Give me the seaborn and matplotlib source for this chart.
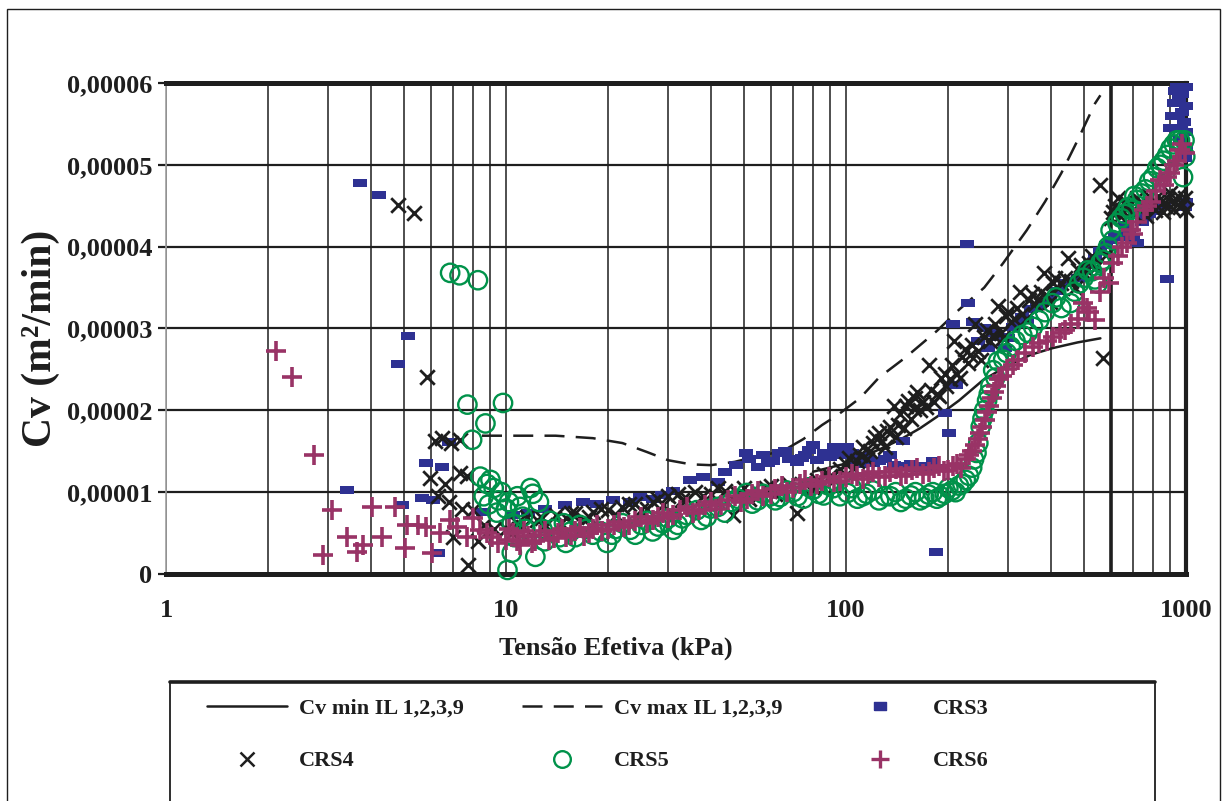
import numpy as np
import pandas as pd
import matplotlib
matplotlib.use("Agg")
import matplotlib.pyplot as plt
from matplotlib.lines import Line2D
from matplotlib.patches import Rectangle
from matplotlib.ticker import FixedLocator, FixedFormatter, LogLocator, NullFormatter
import seaborn as sns

# Cv values below are written in units of 1e-5 m²/min
CV_UNIT = 1e-5

# ---- CRS3 ----
crs3_x = [3.41, 3.72, 4.23, 4.81, 4.94, 5.15, 5.66, 5.82, 6.10, 6.30, 6.50, 6.80, 8.56,
          10.5, 11.6, 13.0, 14.9, 16.8, 18.5, 20.6, 23.2, 24.8, 27.0, 28.7, 31.0, 34.8,
          37.9, 42.0, 47.6, 50.9, 55.0, 59.0, 63.6, 68.0, 71.6, 76.0, 80.2, 82.2, 89.7,
          95.0, 101, 106, 112, 120, 130, 138, 147, 160, 175, 184, 195, 201, 206, 211,
          227, 228, 236, 262, 284, 293, 310, 330, 350, 376, 398, 420, 460, 500, 540,
          580, 620, 660, 700, 718, 760, 820, 879, 900, 920, 940, 950, 960, 970, 985,
          990, 995, 1000, 1000, 1000,
          44, 52, 57, 61, 66, 74, 78, 86, 92, 98, 104, 110, 116, 125, 135, 142, 155, 168,
          180, 190, 245, 255, 270, 300, 320, 340, 365, 440, 480, 520, 560, 600, 640, 680,
          740, 780, 860, 910, 930, 955, 965, 975, 1000, 1000]
crs3_y = [1.03, 4.78, 4.63, 2.57, 0.84, 2.91, 0.93, 1.36, 0.90, 0.26, 1.31, 1.61, 0.76,
          0.72, 0.75, 0.80, 0.84, 0.88, 0.85, 0.90, 0.88, 0.94, 0.92, 0.97, 1.02, 1.15,
          1.19, 1.12, 1.33, 1.48, 1.31, 1.36, 1.48, 1.40, 1.37, 1.46, 1.58, 1.39, 1.43,
          1.50, 1.55, 1.38, 1.44, 1.36, 1.41, 1.33, 1.63, 1.30, 1.28, 0.27, 1.97, 1.72,
          3.06, 2.31, 4.03, 3.31, 3.08, 2.76, 2.90, 2.76, 3.02, 3.14, 3.24, 3.31, 3.39,
          3.46, 3.58, 3.72, 3.86, 4.02, 4.14, 4.26, 4.10, 4.04, 4.36, 4.44, 3.60, 5.45,
          5.76, 5.95, 5.60, 5.30, 5.86, 5.52, 5.08, 4.49, 5.95, 5.72, 4.55,
          1.25, 1.40, 1.45, 1.38, 1.50, 1.42, 1.52, 1.48, 1.55, 1.45, 1.48, 1.35, 1.40,
          1.38, 1.45, 1.32, 1.35, 1.32, 1.38, 1.30, 2.85, 3.00, 2.95, 2.88, 3.05, 3.10,
          3.28, 3.55, 3.62, 3.78, 3.95, 4.08, 4.12, 4.18, 4.30, 4.40, 4.50, 5.60, 5.90,
          5.80, 5.45, 5.65, 5.40, 5.20]

# ---- CRS4 ----
crs4_x = [4.81, 5.36, 5.85, 6.2, 6.5, 6.9, 7.3, 5.99, 6.6, 7.3, 7.7, 6.8, 6.3, 7.4, 8.0,
          7.0, 7.75, 8.3, 8.6, 9.2,
          10.0, 10.8, 11.5, 12.3, 13.0, 14.0, 15.0, 16.0, 17.5, 19.0, 20.0, 22.0, 24.0,
          26.0, 28.0, 30.0, 33.0, 36.0, 40.0, 44.0, 46.5, 50.0, 55.0, 60.0, 65.0, 72.0,
          76.0, 82.0, 90.0, 96.0, 100,
          105, 110, 115, 120, 125, 130, 135, 140, 144, 150, 155, 160, 165, 172, 178, 185,
          190, 197, 205, 212, 220, 228, 235, 245, 255, 265, 275, 285, 295, 305, 318, 330,
          345, 360, 375, 390, 405, 420, 440, 460, 480, 500, 520, 545, 560, 570, 580,
          600, 620, 640, 660, 690, 720, 750, 780, 810, 840, 870, 900, 930, 960, 990,
          102, 108, 112, 118, 122, 128, 132, 138, 142, 148, 152, 158, 162, 168, 175, 182,
          188, 195, 202, 208, 216, 224, 232, 240, 250, 260, 270, 280, 290, 300, 312, 324,
          338, 352, 368, 382, 398, 412, 430, 450, 470, 490, 510, 530,
          610, 630, 650, 675, 705, 735, 765, 795, 825, 855, 885, 915, 945, 975, 1000,
          10.4, 11.2, 12.8, 14.5, 15.5, 17.0, 18.0, 21.0, 23.0, 25.0, 27.0, 29.0, 32.0,
          34.0, 38.0, 42.0, 48.0, 52.0, 58.0, 62.0, 68.0, 80.0, 86.0, 93.0]
crs4_y = [4.51, 4.41, 2.41, 1.62, 1.66, 1.60, 1.64, 1.17, 1.10, 1.23, 1.20, 0.88, 0.95,
          0.80, 0.78, 0.45, 0.11, 0.40, 0.60, 0.55,
          0.55, 0.62, 0.70, 0.66, 0.60, 0.72, 0.68, 0.75, 0.70, 0.80, 0.78, 0.82, 0.85,
          0.80, 0.92, 0.95, 0.90, 1.00, 0.98, 1.02, 0.72, 1.05, 0.95, 1.08, 1.02, 0.74,
          1.10, 1.15, 1.20, 1.28, 1.35,
          1.30, 1.45, 1.40, 1.60, 1.72, 1.55, 1.80, 1.67, 1.96, 2.05, 1.90, 2.15, 2.00,
          2.04, 2.25, 2.20, 2.40, 2.30, 2.55, 2.45, 2.65, 2.58, 2.80, 2.72, 2.90, 2.85,
          3.05, 2.95, 3.15, 3.08, 3.25, 3.18, 3.35, 3.30, 3.45, 3.40, 3.55, 3.50, 3.62,
          3.58, 3.72, 3.68, 3.80, 3.75, 4.75, 2.64, 3.90,
          4.35, 4.50, 4.38, 4.55, 4.42, 4.60, 4.48, 4.62, 4.45, 4.58, 4.50, 4.65, 4.55,
          4.48, 4.60,
          1.42, 1.38, 1.55, 1.50, 1.68, 1.62, 1.75, 2.05, 1.82, 1.78, 2.12, 2.02, 2.22,
          2.10, 2.55, 2.10, 2.18, 2.45, 2.38, 2.85, 2.40, 2.75, 2.68, 3.05, 2.62, 2.98,
          2.92, 3.28, 2.88, 3.20, 3.12, 3.45, 3.12, 3.42, 3.36, 3.68, 3.32, 3.62, 3.55,
          3.86, 3.50, 3.78, 3.72, 3.88,
          4.42, 4.60, 4.45, 4.52, 4.40, 4.55, 4.38, 4.50, 4.62, 4.42, 4.58, 4.46, 4.62,
          4.52, 4.45,
          0.50, 0.58, 0.68, 0.62, 0.74, 0.66, 0.76, 0.72, 0.86, 0.78, 0.88, 0.84, 0.98,
          0.92, 0.95, 1.05, 0.98, 0.92, 1.05, 0.98, 1.10, 1.05, 1.22, 1.16]

# ---- CRS5 ----
crs5_x = [6.85, 7.3, 8.27, 7.7, 9.8, 8.7, 7.95, 8.4, 8.8, 9.2, 8.6, 9.5, 10.0, 10.4,
          10.1, 10.4, 10.8, 11.2, 11.8, 12.0, 12.2, 12.8, 13.5, 14.4, 15.5, 16.5, 18.0,
          19.8, 21.0, 23.2, 25.0, 27.0, 29.0, 31.0, 33.0, 36.4, 39.0, 42.0, 46.0, 51.0,
          55.0, 60.0, 64.0, 70.0, 75.0, 80.0, 86.0, 92.0, 101, 108, 115, 125, 135, 145,
          155, 165, 175, 185, 195, 205, 215, 225, 235, 242, 249, 255, 260, 266, 271, 280,
          297, 315, 343, 370, 405, 430, 457, 485, 514, 540, 560, 570, 590, 610, 628, 660,
          690, 718, 760, 800, 823, 860, 900, 940, 960, 980, 995,
          8.9, 9.0, 9.4, 9.7, 10.2, 10.6, 11.0, 11.4, 12.5, 13.0, 13.8, 14.8, 15.0, 16.0,
          17.2, 19.0, 20.5, 22.0, 24.0, 26.0, 28.0, 30.0, 32.0, 34.0, 37.5, 40.0, 44.0,
          48.0, 53.0, 57.0, 62.0, 67.0, 72.0, 78.0, 83.0, 89.0, 96.0, 104, 112, 120, 130,
          140, 150, 160, 170, 180, 190, 200, 210, 220, 230, 238, 245, 252, 263, 275, 290,
          305, 330, 355, 385, 415, 470, 500, 530, 550, 580, 600, 645, 675, 705, 740, 780,
          840, 880, 920, 990]
crs5_y = [3.68, 3.65, 3.59, 2.07, 2.09, 1.84, 1.64, 1.19, 1.10, 1.05, 0.95, 0.90, 0.80,
          0.62, 0.05, 0.26, 0.95, 0.70, 1.05, 0.98, 0.21, 0.55, 0.65, 0.45, 0.52, 0.60,
          0.48, 0.38, 0.55, 0.54, 0.60, 0.52, 0.62, 0.54, 0.68, 0.78, 0.70, 0.82, 0.88,
          0.99, 0.90, 0.95, 0.94, 1.00, 0.92, 1.03, 0.96, 1.05, 0.99, 0.92, 0.98, 0.90,
          0.95, 0.88, 0.96, 0.90, 0.97, 0.92, 0.98, 1.02, 1.08, 1.15, 1.30, 1.48, 1.80,
          2.00, 2.12, 2.30, 2.49, 2.60, 2.70, 2.85, 2.95, 3.10, 3.31, 3.25, 3.31, 3.55,
          3.71, 3.60, 3.80, 3.84, 4.00, 4.08, 4.29, 4.40, 4.45, 4.57, 4.70, 4.85, 4.96,
          5.05, 5.20, 5.30, 5.30, 4.85, 5.10,
          0.85, 1.15, 0.75, 1.00, 0.88, 0.45, 0.82, 0.55, 0.88, 0.40, 0.55, 0.62, 0.38,
          0.45, 0.55, 0.52, 0.48, 0.62, 0.48, 0.65, 0.58, 0.68, 0.60, 0.72, 0.66, 0.80,
          0.75, 0.92, 0.86, 0.98, 0.90, 1.02, 0.95, 1.06, 0.98, 1.08, 0.95, 1.05, 0.95,
          1.02, 0.95, 1.00, 0.92, 1.00, 0.93, 1.00, 0.95, 1.05, 1.00, 1.10, 1.20, 1.40,
          1.60, 1.90, 2.20, 2.40, 2.62, 2.78, 2.92, 3.02, 3.20, 3.38, 3.45, 3.62, 3.70,
          3.55, 3.92, 4.20, 4.35, 4.48, 4.62, 4.65, 4.80, 5.00, 5.12, 5.25, 5.30]

# ---- CRS6 ----
crs6_x = [2.11, 2.35, 2.72, 2.9, 3.07, 3.41, 3.65, 3.8, 4.03, 4.32, 4.72, 5.05, 5.12,
          5.5, 5.8, 6.05, 6.4, 6.85, 7.2, 7.67, 8.0, 8.4, 8.8, 9.1, 9.5,
          10.0, 10.5, 11.0, 11.6, 12.2, 13.0, 13.8, 14.6, 15.5, 16.5, 17.5, 18.5, 20.0,
          21.5, 23.0, 25.0, 27.0, 29.0, 31.0, 34.0, 37.0, 40.0, 43.0, 47.0, 51.0, 55.0,
          60.0, 65.0, 70.0, 76.0, 82.0, 89.0, 96.0, 104, 112, 120, 130, 140, 150, 162,
          175, 188, 200, 212, 225, 235, 245, 252, 260, 268, 276, 288, 297, 320, 355, 390,
          425, 460, 497, 520, 540, 560, 575, 595, 630, 670, 700, 750, 790, 840, 880, 920,
          960, 990,
          10.2, 10.8, 11.3, 11.9, 12.6, 13.4, 14.2, 15.0, 16.0, 17.0, 18.0, 19.2, 20.8,
          22.2, 24.0, 26.0, 28.0, 30.0, 32.5, 35.5, 38.5, 41.5, 45.0, 49.0, 53.0, 57.0,
          62.0, 67.0, 73.0, 79.0, 85.0, 92.0, 100, 108, 116, 125, 135, 145, 156, 168, 181,
          194, 206, 218, 230, 240, 248, 256, 264, 272, 282, 310, 335, 370, 405, 440, 480,
          510, 610, 650, 690, 720, 770, 815, 860, 900, 940, 975]
crs6_y = [2.73, 2.41, 1.45, 0.23, 0.78, 0.45, 0.27, 0.35, 0.82, 0.45, 0.82, 0.32, 0.60,
          0.60, 0.58, 0.26, 0.50, 0.66, 0.58, 0.45, 0.68, 0.54, 0.50, 0.45, 0.38,
          0.42, 0.50, 0.36, 0.47, 0.40, 0.52, 0.44, 0.55, 0.48, 0.56, 0.50, 0.60, 0.55,
          0.64, 0.60, 0.70, 0.66, 0.75, 0.72, 0.82, 0.78, 0.88, 0.84, 0.95, 0.92, 1.02,
          0.98, 1.08, 1.05, 1.15, 1.10, 1.18, 1.14, 1.22, 1.16, 1.25, 1.20, 1.28, 1.22,
          1.30, 1.25, 1.32, 1.27, 1.35, 1.40, 1.50, 1.65, 1.80, 1.98, 2.15, 2.30, 2.42,
          2.50, 2.62, 2.77, 2.85, 2.94, 3.05, 3.31, 3.20, 3.10, 3.45, 3.62, 3.55, 3.88,
          4.04, 4.15, 4.45, 4.55, 4.81, 4.85, 5.00, 5.18, 5.15,
          0.55, 0.40, 0.52, 0.38, 0.48, 0.42, 0.50, 0.45, 0.52, 0.47, 0.55, 0.52, 0.60,
          0.57, 0.65, 0.62, 0.70, 0.68, 0.78, 0.75, 0.84, 0.80, 0.90, 0.88, 0.98, 0.95,
          1.04, 1.00, 1.10, 1.08, 1.14, 1.12, 1.18, 1.20, 1.22, 1.18, 1.25, 1.20, 1.27,
          1.22, 1.30, 1.26, 1.32, 1.30, 1.45, 1.58, 1.72, 1.88, 2.05, 2.22, 2.38, 2.55,
          2.70, 2.82, 2.90, 2.98, 3.12, 3.25, 3.80, 4.00, 4.20, 4.30, 4.50, 4.68, 4.75,
          4.90, 5.05, 5.25]

# ---- Envelope curves from incremental loading tests IL 1,2,3,9 ----
cvmin_x = [80, 100, 125, 144, 165, 185, 215, 253, 300, 350, 405, 480, 560]
cvmin_y = [1.25, 1.35, 1.52, 1.64, 1.78, 1.92, 2.12, 2.37, 2.55, 2.68, 2.76, 2.83, 2.88]
cvmax_x = [8.5, 10, 14, 18, 22, 26, 30, 35, 40, 47, 55, 65, 75, 85, 95, 110, 125, 150,
           185, 215, 255, 290, 340, 385, 430, 480, 540, 560]
cvmax_y = [1.69, 1.69, 1.69, 1.66, 1.60, 1.49, 1.39, 1.34, 1.33, 1.37, 1.44, 1.50, 1.65,
           1.82, 1.95, 2.15, 2.40, 2.65, 2.97, 3.23, 3.50, 3.80, 4.20, 4.55, 4.90, 5.30,
           5.75, 5.85]

series_labels = ["Cv min IL 1,2,3,9", "Cv max IL 1,2,3,9", "CRS3", "CRS4", "CRS5", "CRS6"]

x_ticks = [1, 10, 100, 1000]
x_tick_labels = ["1", "10", "100", "1000"]
y_ticks = [0, 1e-5, 2e-5, 3e-5, 4e-5, 5e-5, 6e-5]
y_tick_labels = ["0", "0,00001", "0,00002", "0,00003", "0,00004", "0,00005", "0,00006"]

x_label = "Tensão Efetiva (kPa)"
y_label = "Cv (m²/min)"

# ---- styling ----
sns.set_theme(style="white")
plt.rcParams["font.family"] = ["Liberation Serif", "DejaVu Serif"]
plt.rcParams["font.weight"] = "bold"
plt.rcParams["axes.labelweight"] = "bold"

INK = "#1e1e1e"
C_BLUE = "#2e3192"
C_GREEN = "#00924a"
C_MAG = "#993366"
RECT = [(-1, -0.62), (1, -0.62), (1, 0.62), (-1, 0.62), (-1, -0.62)]
DASH = (8, 4.5)


def frame(xs, ys):
    return pd.DataFrame({"x": xs, "y": np.asarray(ys) * CV_UNIT})


W, H = 1224, 801
fig = plt.figure(figsize=(W / 100, H / 100), dpi=100)
ax = fig.add_axes([166 / W, (H - 574) / H, 1020 / W, 491 / H])
ax.set_xscale("log")

# envelope curves
sns.lineplot(data=frame(cvmin_x, cvmin_y), x="x", y="y", ax=ax, sort=False,
             estimator=None, color=INK, lw=1.8, zorder=3)
sns.lineplot(data=frame(cvmax_x, cvmax_y), x="x", y="y", ax=ax, sort=False,
             estimator=None, color=INK, lw=1.8, dashes=DASH, zorder=3)

# CRS tests
sns.scatterplot(data=frame(crs3_x, crs3_y), x="x", y="y", ax=ax, marker=RECT, s=95,
                color=C_BLUE, edgecolor=C_BLUE, linewidth=0, zorder=4, clip_on=False)
sns.scatterplot(data=frame(crs4_x, crs4_y), x="x", y="y", ax=ax, marker="x", s=110,
                color=INK, linewidth=2.0, zorder=5, clip_on=False)
sns.scatterplot(data=frame(crs5_x, crs5_y), x="x", y="y", ax=ax, marker="o", s=175,
                facecolors="none", edgecolor=C_GREEN, linewidth=1.7, zorder=6,
                clip_on=False)
sns.scatterplot(data=frame(crs6_x, crs6_y), x="x", y="y", ax=ax, marker="+", s=200,
                color=C_MAG, linewidth=2.6, zorder=7, clip_on=False)

# axes
ax.set_xlim(1, 1000)
ax.set_ylim(0, 6e-5)
ax.xaxis.set_major_locator(FixedLocator(x_ticks))
ax.xaxis.set_major_formatter(FixedFormatter(x_tick_labels))
ax.xaxis.set_minor_locator(LogLocator(base=10, subs=np.arange(2, 10)))
ax.xaxis.set_minor_formatter(NullFormatter())
ax.yaxis.set_major_locator(FixedLocator(y_ticks))
ax.yaxis.set_major_formatter(FixedFormatter(y_tick_labels))

ax.tick_params(axis="x", which="major", direction="out", length=6, width=1.6,
               color=INK, pad=12, labelsize=19, labelcolor=INK)
ax.tick_params(axis="x", which="minor", length=0)
ax.tick_params(axis="y", which="major", direction="out", length=6, width=1.6,
               color=INK, pad=4, labelsize=19, labelcolor=INK, left=True)

ax.set_axisbelow(True)
ax.grid(True, axis="x", which="both", color=INK, lw=1.1)
ax.grid(True, axis="y", which="major", color=INK, lw=1.6)
ax.axvline(600, color=INK, lw=2.6, zorder=1)

for side, lw, col in [("top", 3.6, INK), ("bottom", 3.6, INK), ("right", 3.0, INK),
                      ("left", 1.2, "#a0a0a0")]:
    ax.spines[side].set_visible(True)
    ax.spines[side].set_linewidth(lw)
    ax.spines[side].set_color(col)

ax.set_xlabel(x_label, fontsize=19, fontweight="bold", color=INK)
ax.xaxis.set_label_coords(0.441, -0.128)
ax.set_ylabel(y_label, fontsize=30, fontweight="bold", color=INK)
ax.yaxis.set_label_coords(-0.104, 0.48)

# legend
handles = [
    Line2D([], [], color=INK, lw=1.8),
    Line2D([], [], color=INK, lw=1.8, dashes=DASH),
    Line2D([], [], ls="none", marker=RECT, ms=9, color=C_BLUE, mec=C_BLUE),
    Line2D([], [], ls="none", marker="x", ms=10, color=INK, mew=1.8),
    Line2D([], [], ls="none", marker="o", ms=12, mfc="none", mec=C_GREEN, mew=1.7),
    Line2D([], [], ls="none", marker="+", ms=13, color=C_MAG, mew=2.4),
]
order = [0, 3, 1, 4, 2, 5]
fig.legend([handles[i] for i in order], [series_labels[i] for i in order], ncol=3,
           loc="upper left", bbox_to_anchor=(207 / W, (H - 698) / H), frameon=False,
           prop={"family": ["Liberation Serif", "DejaVu Serif"], "weight": "bold",
                 "size": 16},
           handlelength=3.6, handletextpad=0.55, columnspacing=2.6, labelspacing=1.45,
           borderpad=0, borderaxespad=0, labelcolor=INK)

# legend box, running off the bottom edge
fig.add_artist(Rectangle((170 / W, -0.05), (1155 - 170) / W, (H - 682) / H + 0.05,
                         transform=fig.transFigure, fill=False, ec=INK, lw=1.3))
fig.add_artist(Line2D([170 / W, 1155 / W], [(H - 682) / H] * 2,
                      transform=fig.transFigure, color=INK, lw=2.6))

# outer frame
fig.add_artist(Rectangle((7 / W, -0.05), (1220 - 7) / W, (H - 9) / H + 0.05,
                         transform=fig.transFigure, fill=False, ec=INK, lw=1.0))

fig.savefig("out.png", dpi=100, facecolor="white")
